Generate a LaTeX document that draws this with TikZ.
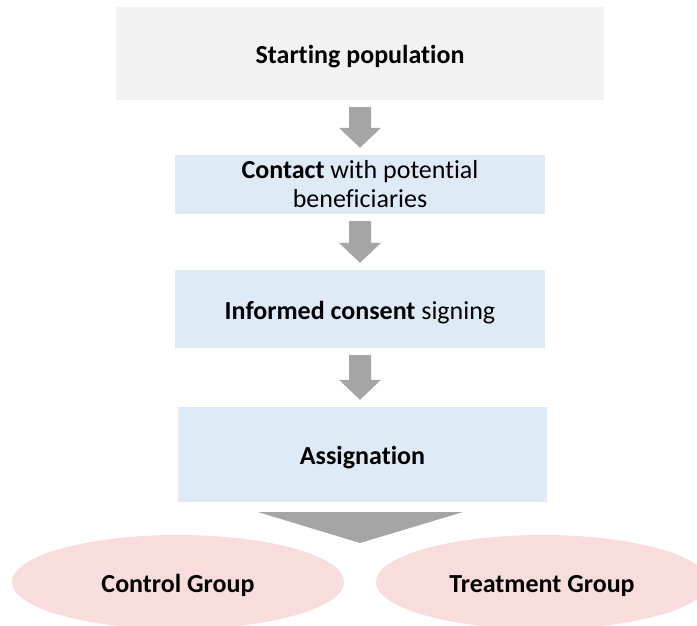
\documentclass[tikz,border=0pt]{standalone}
\usepackage{fontspec}
\setmainfont{Carlito}[Ligatures=NoCommon]
\usetikzlibrary{calc,shapes.geometric}
\definecolor{boxgray}{HTML}{F2F2F2}
\definecolor{boxblue}{HTML}{DEEAF6}
\definecolor{arrowgray}{HTML}{A5A5A5}
\definecolor{grouppink}{HTML}{F9DCDC}
\tikzset{
  stagebox/.style={rectangle, inner sep=0pt, align=center, font=\fontsize{26}{29}\selectfont},
  oneline/.style={text height=22pt, text depth=2pt},
  groupell/.style={ellipse, fill=grouppink, inner sep=0pt, minimum width=332pt, minimum height=94pt, oneline, font=\fontsize{26}{29}\selectfont\bfseries},
  blockarrow/.style={fill=arrowgray},
}
\newcommand{\flowarrow}[2]{%
  \fill[blockarrow] let \p1=($(#1.south)+(0,-7pt)$), \p2=($(#2.north)+(0,7pt)$) in
    (\x1-11pt,\y1) -- (\x1+11pt,\y1) -- (\x1+11pt,\y2+20pt) -- (\x1+21pt,\y2+20pt)
    -- (\x1,\y2) -- (\x1-21pt,\y2+20pt) -- (\x1-11pt,\y2+20pt) -- cycle;}
\begin{document}
\begin{tikzpicture}[x=1pt,y=-1pt]
\useasboundingbox (0,0) rectangle (697,626);
\clip (0,0) rectangle (697,626);
\node[stagebox, oneline, fill=boxgray, minimum width=488pt, minimum height=93pt] (start) at (360,53.5) {\bfseries Starting population};
\node[stagebox, fill=boxblue, minimum width=370pt, minimum height=59pt] (contact) at (360,184.5) {\textbf{Contact} with potential\\beneficiaries};
\node[stagebox, oneline, fill=boxblue, minimum width=370pt, minimum height=78pt] (consent) at (360,309) {\textbf{Informed consent} signing};
\node[stagebox, oneline, fill=boxblue, minimum width=369pt, minimum height=95pt] (assign) at (362.5,454.5) {\bfseries Assignation};
\node[groupell] (control) at (178,582) {Control Group};
\node[groupell] (treat) at (542,582) {Treatment Group};
\flowarrow{start}{contact}
\flowarrow{contact}{consent}
\flowarrow{consent}{assign}
\coordinate (split) at (360,543);
\fill[blockarrow] let \p1=($(assign.south)+(0,-10pt)$) in
  (\x1-104pt,\y1) -- (\x1+100pt,\y1) -- (split) -- cycle;
\end{tikzpicture}
\end{document}
